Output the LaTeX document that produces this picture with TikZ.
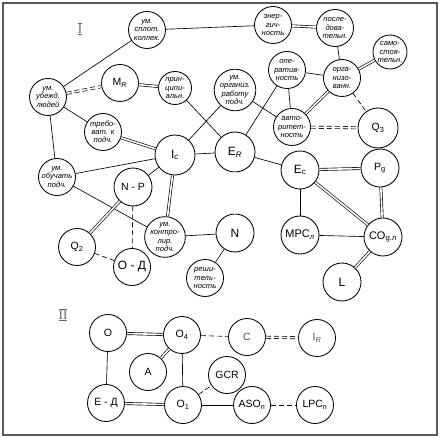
\documentclass[tikz,border=0pt]{standalone}
\usepackage{fontspec}
\setmainfont{Liberation Sans}
\newfontfamily\romanfont{Liberation Serif}
\begin{document}
\begin{tikzpicture}[x=1pt, y=-1pt]
  \tikzset{
    circ_node/.style={circle, draw, line width=0.85pt, minimum size=37pt, inner sep=0pt, font=\fontsize{10.5}{12}\selectfont},
    word_node/.style={circ_node, align=center, font=\fontsize{7.6}{8.1}\selectfont\itshape},
    double_edge/.style={double, double distance=1.6pt, line width=0.65pt},
    dash_edge/.style={dashed, dash pattern=on 5pt off 3pt}
  }
  \useasboundingbox (0,0) rectangle (441,438);
  \draw[line width=1.3pt, black!65] (3,3) rectangle (437,435);

  % Часть I
  \node[text=black!60, font=\fontsize{13}{13}\selectfont] (num_one) at (80,29) {$\overline{\underline{\hbox{\romanfont I}}}$};

  % Вершины с текстом
  \node[word_node] (splot) at (147,30) {ум.\\сплот.\\коллек.};
  \node[word_node] (energ) at (273,25) {энер-\\гич-\\ность};
  \node[word_node] (posled) at (335,28) {после-\\дова-\\тельн.};
  \node[word_node, minimum size=34pt] (samost) at (390,52) {само-\\стоя-\\тельн.};
  \node[word_node] (operat) at (287,70) {опе-\\ратив-\\ность};
  \node[word_node] (organiz) at (342,78) {орга-\\низо-\\ванн.};
  \node[word_node] (avtor) at (292,127) {авто-\\ритет-\\ность};
  \node[word_node] (ubezhd) at (48,97) {ум.\\убежд.\\людей};
  \node[word_node, minimum size=33pt] (princ) at (175,88) {прин-\\ципи-\\альн.};
  \node[word_node] (treb) at (103,132) {требо-\\ват. к\\подч.};
  \node[word_node, minimum size=36pt] (org_rab) at (235,90) {ум.\\организ.\\работу\\подч.};
  \node[word_node] (obuch) at (57,177) {ум.\\обучать\\подч.};
  \node[word_node, minimum size=36pt] (kontr) at (165,237) {ум.\\контро-\\лир.\\подч.};
  \node[word_node] (reshit) at (205,278) {реши-\\тель-\\ность};

  % Вершины с обозначениями
  \node[circ_node, minimum size=40pt] (q_3) at (378,128) {Q\textsubscript{3}};
  \node[circ_node] (m_r) at (120,83) {M\textsubscript{\itshape R}};
  \node[circ_node, minimum size=40pt, font=\fontsize{12}{12}\selectfont] (i_c) at (175,155) {I\textsubscript{\itshape c}};
  \node[circ_node, minimum size=40pt, font=\fontsize{12}{12}\selectfont] (e_r) at (235,152) {E\textsubscript{\itshape R}};
  \node[circ_node, minimum size=38pt, font=\fontsize{12}{12}\selectfont] (e_c) at (300,170) {E\textsubscript{c}};
  \node[circ_node, minimum size=38pt] (p_g) at (380,168) {P\textsubscript{g}};
  \node[circ_node, minimum size=38pt] (n_p) at (133,187) {N - P};
  \node[circ_node, minimum size=38pt, font=\fontsize{12}{12}\selectfont] (n) at (235,233) {N};
  \node[circ_node, minimum size=38pt, font=\fontsize{11}{12}\selectfont] (mpc) at (300,235) {MPC\textsubscript{\itshape л}};
  \node[circ_node, minimum size=38pt, font=\fontsize{11}{12}\selectfont] (co) at (383,237) {CO\textsubscript{g.л}};
  \node[circ_node] (q_2) at (77,247) {Q\textsubscript{2}};
  \node[circ_node, font=\fontsize{12}{12}\selectfont] (o_d) at (132,267) {O - Д};
  \node[circ_node, minimum size=38pt, font=\fontsize{12}{12}\selectfont] (l) at (342,282) {L};

  % Связи части I
  \draw[line width=0.65pt] (splot) -- (energ);
  \draw[double_edge] (energ) -- (posled);
  \draw[line width=0.65pt] (posled) -- (organiz);
  \draw[double_edge] (samost) -- (organiz);
  \draw[line width=0.65pt] (operat) -- (organiz);
  \draw[line width=0.65pt] (operat) -- (avtor);
  \draw[double_edge] (organiz) -- (avtor);
  \draw[line width=0.65pt, dash_edge] (organiz) -- (q_3);
  \draw[double_edge, dash_edge] (avtor) -- (q_3);
  \draw[line width=0.65pt] (org_rab) -- (avtor);
  \draw[line width=0.65pt] (operat) -- (e_r);
  \draw[line width=0.65pt] (org_rab) -- (i_c);
  \draw[line width=0.65pt] (princ) -- (e_r);
  \draw[line width=0.65pt] (ubezhd) -- (splot);
  \draw[double_edge, dash_edge] (ubezhd) -- (m_r);
  \draw[double_edge] (m_r) -- (princ);
  \draw[line width=0.65pt] (ubezhd) -- (treb);
  \draw[double_edge] (treb) -- (i_c);
  \draw[line width=0.65pt] (ubezhd) -- (obuch);
  \draw[line width=0.65pt] (obuch) -- (i_c);
  \draw[line width=0.65pt] (i_c) -- (e_r);
  \draw[line width=0.65pt] (i_c) -- (n_p);
  \draw[double_edge] (i_c) -- (kontr);
  \draw[line width=0.65pt] (obuch) -- (kontr);
  \draw[double_edge] (n_p) -- (q_2);
  \draw[line width=0.65pt, dash_edge] (n_p) -- (o_d);
  \draw[line width=0.65pt, dash_edge] (q_2) -- (o_d);
  \draw[line width=0.65pt] (kontr) -- (n);
  \draw[double_edge] (e_r) -- (n);
  \draw[line width=0.65pt] (n) -- (reshit);
  \draw[line width=0.65pt] (e_r) -- (e_c);
  \draw[double_edge] (e_c) -- (p_g);
  \draw[double_edge] (e_c) -- (co);
  \draw[line width=0.65pt] (e_c) -- (mpc);
  \draw[line width=0.65pt] (mpc) -- (co);
  \draw[double_edge] (p_g) -- (co);
  \draw[double_edge] (co) -- (l);

  % Часть II
  \node[text=black!60, font=\fontsize{13}{13}\selectfont] (num_two) at (63,315) {$\overline{\underline{\hbox{\romanfont II}}}$};

  \node[circ_node] (o) at (108,333) {O};
  \node[circ_node] (o_4) at (182,335) {O\textsubscript{4}};
  \node[circ_node, text=black!70] (c) at (247,337) {C};
  \node[circ_node, text=black!70] (i_r) at (317,338) {I\textsubscript{\itshape R}};
  \node[circ_node] (a) at (148,372) {A};
  \node[circ_node] (gcr) at (227,375) {GCR};
  \node[circ_node] (e_d) at (106,403) {E - Д};
  \node[circ_node] (o_1) at (183,405) {O\textsubscript{1}};
  \node[circ_node] (aso) at (252,405) {ASO\textsubscript{п}};
  \node[circ_node] (lpc) at (315,405) {LPC\textsubscript{п}};

  % Связи части II
  \draw[double_edge] (o) -- (o_4);
  \draw[line width=0.65pt, dash_edge] (o_4) -- (c);
  \draw[double_edge, dash_edge] (c) -- (i_r);
  \draw[double_edge] (o_4) -- (a);
  \draw[line width=0.65pt] (o_4) -- (o_1);
  \draw[line width=0.65pt] (o) -- (e_d);
  \draw[double_edge] (e_d) -- (o_1);
  \draw[line width=0.65pt, dash_edge] (o_1) -- (gcr);
  \draw[line width=0.65pt] (o_1) -- (aso);
  \draw[line width=0.65pt, dash_edge] (aso) -- (lpc);
\end{tikzpicture}
\end{document}
